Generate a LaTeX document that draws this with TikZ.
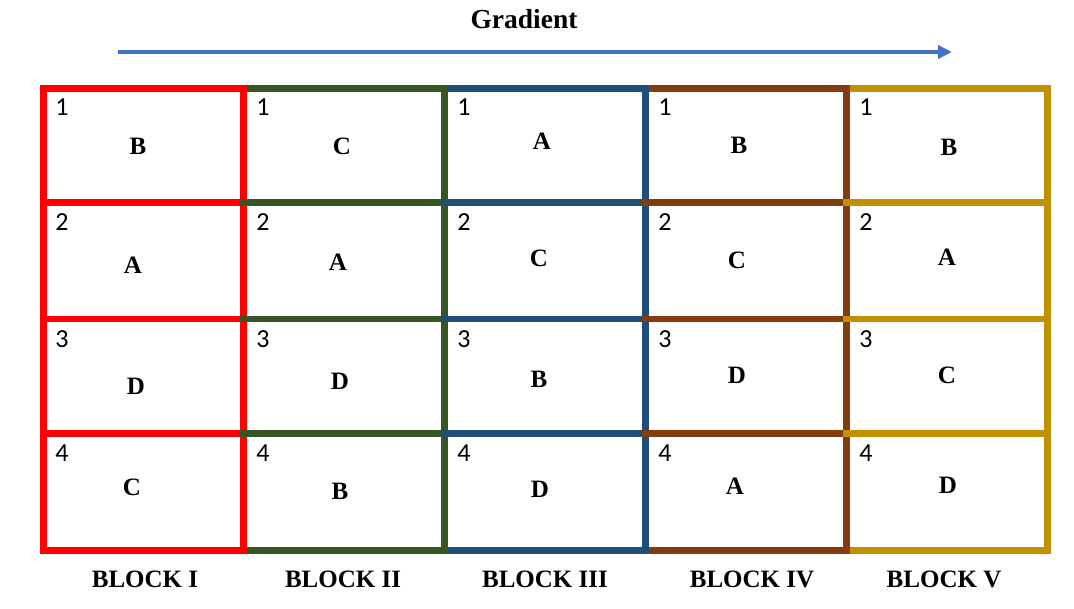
\documentclass[tikz,border=0pt]{standalone}
\usepackage{fontspec}
\setmainfont{Liberation Serif}
\newfontfamily\numfont{Carlito}
\usetikzlibrary{arrows.meta}
\definecolor{cI}{HTML}{FF0000}
\definecolor{cII}{HTML}{375623}
\definecolor{cIII}{HTML}{1F4E79}
\definecolor{cIV}{HTML}{843C0C}
\definecolor{cV}{HTML}{BF9000}
\definecolor{arrowblue}{HTML}{4472C4}
\tikzset{
  gridline/.style={line width=6.5pt, line join=miter},
  letter/.style={font=\fontsize{25}{28}\selectfont\bfseries, inner sep=0pt, anchor=center},
  num/.style={font=\numfont\fontsize{26}{28}\selectfont, inner sep=0pt, anchor=center},
  blocklabel/.style={font=\fontsize{25}{28}\selectfont\bfseries, inner sep=0pt, anchor=center},
}
\begin{document}
\begin{tikzpicture}[x=1pt,y=-1pt]
\useasboundingbox (0,0) rectangle (1074,609);
\fill[white] (0,0) rectangle (1074,609);
% title and arrow
\node[font=\fontsize{27.5}{30}\selectfont\bfseries, inner sep=0pt] (title) at (524,19) {Gradient};
\coordinate (arrS) at (118,52);
\coordinate (arrE) at (952,52);
\draw[arrowblue, line width=3.5pt, -{Triangle[length=14pt,width=13pt]}] (arrS) -- (arrE);
% block rectangles, drawn right to left
\draw[gridline, cV]   (846.5,88.3) rectangle (1047.5,550.3);
\draw[gridline, cIV]  (645.5,88.3) rectangle (846.5,550.3);
\draw[gridline, cIII] (444.5,88.3) rectangle (645.5,550.3);
\draw[gridline, cII]  (243.5,88.3) rectangle (444.5,550.3);
\draw[gridline, cI]   (43.5,88.3) rectangle (243.5,550.3);
% internal row lines, left to right
\foreach \c/\xa/\xb in {cI/43.5/243.5, cII/243.5/444.5, cIII/444.5/645.5, cIV/645.5/846.5, cV/846.5/1047.5}{
  \foreach \y in {202.3,319,433.5}{
    \draw[line width=6.5pt, \c] (\xa-3.25,\y) -- (\xb+3.25,\y);
  }
}
% numbers
\foreach \col/\x in {1/62,2/263,3/464,4/665,5/866}{
  \node[num] (n\col-1) at (\x,107) {1};
  \node[num] (n\col-2) at (\x,222) {2};
  \node[num] (n\col-3) at (\x,339) {3};
  \node[num] (n\col-4) at (\x,453) {4};
}
% letters
\node[letter] (l11) at (138,146) {B};
\node[letter] (l21) at (342,146) {C};
\node[letter] (l31) at (542,141) {A};
\node[letter] (l41) at (739,145) {B};
\node[letter] (l51) at (949,147) {B};
\node[letter] (l12) at (133,265) {A};
\node[letter] (l22) at (338,262) {A};
\node[letter] (l32) at (539,258) {C};
\node[letter] (l42) at (737,260) {C};
\node[letter] (l52) at (947,257) {A};
\node[letter] (l13) at (136,386) {D};
\node[letter] (l23) at (340,381) {D};
\node[letter] (l33) at (539,379) {B};
\node[letter] (l43) at (737,375) {D};
\node[letter] (l53) at (947,375) {C};
\node[letter] (l14) at (132,487) {C};
\node[letter] (l24) at (340,491) {B};
\node[letter] (l34) at (540,489) {D};
\node[letter] (l44) at (735,486) {A};
\node[letter] (l54) at (948,485) {D};
% block labels
\node[blocklabel] (bI)   at (145,579) {BLOCK I};
\node[blocklabel] (bII)  at (343,579) {BLOCK II};
\node[blocklabel] (bIII) at (545,579) {BLOCK III};
\node[blocklabel] (bIV)  at (752,579) {BLOCK IV};
\node[blocklabel] (bV)   at (944,579) {BLOCK V};
\end{tikzpicture}
\end{document}
